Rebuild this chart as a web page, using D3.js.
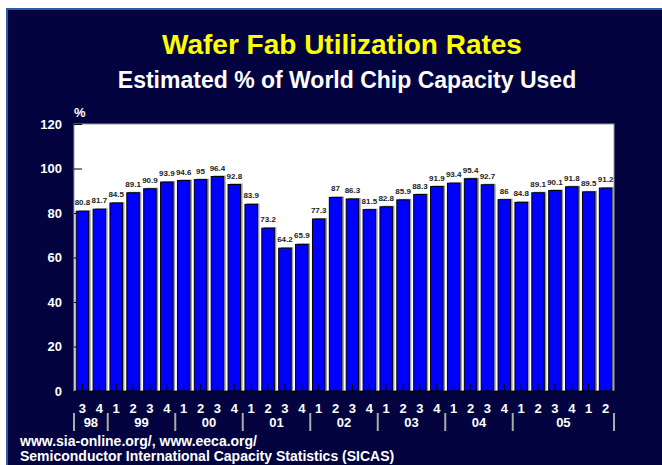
<!DOCTYPE html>
<html>
<head>
<meta charset="utf-8">
<script src="https://cdn.jsdelivr.net/npm/d3@7"></script>
<style>
  body { margin: 0; background: #fff; }
  svg { display: block; font-family: "Liberation Sans", Arial, sans-serif; font-weight: bold; }
</style>
</head>
<body>
<svg id="chart"></svg>
<script>
// quarterly utilization, 98Q3 .. 06Q2
const quarters = ["3","4","1","2","3","4","1","2","3","4","1","2","3","4","1","2",
                  "3","4","1","2","3","4","1","2","3","4","1","2","3","4","1","2"];
const rates = [80.8, 81.7, 84.5, 89.1, 90.9, 93.9, 94.6, 95, 96.4, 92.8, 83.9, 73.2,
               64.2, 65.9, 77.3, 87, 86.3, 81.5, 82.8, 85.9, 88.3, 91.9, 93.4, 95.4,
               92.7, 86, 84.8, 89.1, 90.1, 91.8, 89.5, 91.2];
const years = ["98", "99", "00", "01", "02", "03", "04", "05"];
const yearSpans = [2, 4, 4, 4, 4, 4, 4, 6];
const yTicks = [0, 20, 40, 60, 80, 100, 120];

const width = 662, height = 465;
const plot = {left: 74, right: 614, top: 124, bottom: 391};

let svg = d3.select("#chart")
    .attr("width", width)
    .attr("height", height)
    .attr("viewBox", [0, 0, width, height]);

// slide frame
svg.append("rect").attr("x", 6).attr("y", 8).attr("width", width - 6).attr("height", height - 8)
    .attr("fill", "#2a5caa");
svg.append("rect").attr("x", 8).attr("y", 10).attr("width", width - 8).attr("height", height - 10)
    .attr("fill", "#03033f");

svg.append("text")
    .attr("x", 342).attr("y", 54)
    .attr("text-anchor", "middle")
    .attr("fill", "#ffff00")
    .attr("font-size", "28px")
    .text("Wafer Fab Utilization Rates");

svg.append("text")
    .attr("x", 347).attr("y", 88)
    .attr("text-anchor", "middle")
    .attr("fill", "#fff")
    .attr("font-size", "23px")
    .text("Estimated % of World Chip Capacity Used");

let x = d3.scaleBand()
    .domain(d3.range(rates.length))
    .range([plot.left, plot.right])
    .paddingInner(0.26)
    .paddingOuter(0.13);

let y = d3.scaleLinear()
    .domain([0, 120])
    .range([plot.bottom, plot.top]);

// plot area
svg.append("rect")
    .attr("x", plot.left).attr("y", plot.top)
    .attr("width", plot.right - plot.left).attr("height", plot.bottom - plot.top)
    .attr("fill", "#fff")
    .attr("stroke", "#999")
    .attr("stroke-width", 1);

let yAxis = svg.append("g")
    .attr("transform", `translate(${plot.left},0)`)
    .call(d3.axisLeft(y).tickValues(yTicks).tickSizeInner(-8).tickSizeOuter(0).tickPadding(12));
yAxis.select(".domain").remove();
yAxis.selectAll(".tick line").attr("stroke", "#000");
yAxis.selectAll(".tick text")
    .attr("fill", "#fff")
    .attr("font-size", "13px")
    .attr("font-family", "Liberation Sans, Arial, sans-serif")
    .attr("font-weight", "bold");

svg.append("text")
    .attr("x", 74).attr("y", 117)
    .attr("fill", "#fff")
    .attr("font-size", "13px")
    .text("%");

// bars: shadow then face
let bars = svg.append("g");
bars.selectAll("rect.shadow")
    .data(rates)
    .join("rect")
    .attr("class", "shadow")
    .attr("x", (d, i) => x(i) + 2)
    .attr("y", d => y(d) - 1)
    .attr("width", x.bandwidth())
    .attr("height", d => y(0) - y(d) + 1)
    .attr("fill", "#999");

bars.selectAll("rect.bar")
    .data(rates)
    .join("rect")
    .attr("class", "bar")
    .attr("x", (d, i) => x(i))
    .attr("y", d => y(d))
    .attr("width", x.bandwidth())
    .attr("height", d => y(0) - y(d))
    .attr("fill", "#0000ff")
    .attr("stroke", "#000")
    .attr("stroke-width", 1);

bars.selectAll("text")
    .data(rates)
    .join("text")
    .attr("x", (d, i) => x(i) + x.bandwidth() / 2)
    .attr("y", d => y(d) - 6)
    .attr("text-anchor", "middle")
    .attr("fill", "#222")
    .attr("font-size", "8px")
    .text(d => d);

// category axis, ticks point up into the bars
let xAxis = svg.append("g")
    .attr("transform", `translate(0,${plot.bottom})`)
    .call(d3.axisBottom(x).tickSizeInner(-7).tickSizeOuter(0).tickPadding(13)
        .tickFormat(i => quarters[i]));
xAxis.select(".domain").attr("stroke", "#000").attr("stroke-width", 1.5);
xAxis.selectAll(".tick line").attr("stroke", "#000");
xAxis.selectAll(".tick text")
    .attr("fill", "#fff")
    .attr("font-size", "13px")
    .attr("font-family", "Liberation Sans, Arial, sans-serif")
    .attr("font-weight", "bold");

// year groups
let step = x.step();
let starts = d3.cumsum([0].concat(yearSpans));
let bounds = Array.from(starts, s => plot.left + s * step);
svg.append("g").selectAll("line")
    .data(bounds)
    .join("line")
    .attr("x1", d => d).attr("x2", d => d)
    .attr("y1", 413).attr("y2", 431)
    .attr("stroke", "#aaa")
    .attr("stroke-width", 2);

svg.append("g").selectAll("text")
    .data(years)
    .join("text")
    .attr("x", (d, i) => (bounds[i] + bounds[i + 1]) / 2)
    .attr("y", 427)
    .attr("text-anchor", "middle")
    .attr("fill", "#fff")
    .attr("font-size", "13px")
    .text(d => d);

// source note
svg.append("text")
    .attr("x", 20).attr("y", 446)
    .attr("fill", "#fff")
    .attr("font-size", "14px")
    .text("www.sia-online.org/, www.eeca.org/");
svg.append("text")
    .attr("x", 20).attr("y", 461)
    .attr("fill", "#fff")
    .attr("font-size", "14px")
    .text("Semiconductor International Capacity Statistics (SICAS)");
</script>
</body>
</html>
